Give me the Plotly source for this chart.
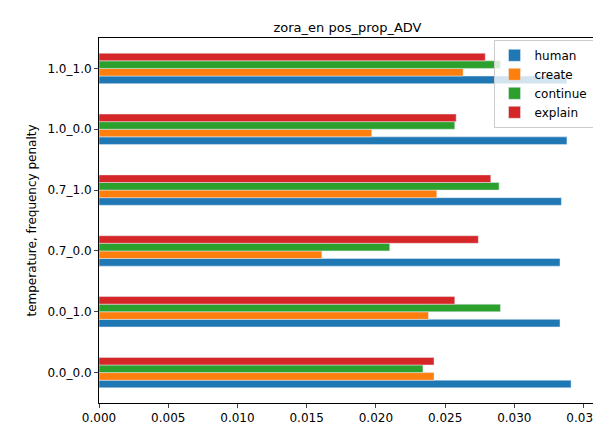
import plotly.graph_objects as go

categories = ["0.0_0.0", "0.0_1.0", "0.7_0.0", "0.7_1.0", "1.0_0.0", "1.0_1.0"]
human = [0.0341, 0.0333, 0.0333, 0.0334, 0.0338, 0.0338]
create = [0.0242, 0.0238, 0.0161, 0.0244, 0.0197, 0.0263]
cont = [0.0234, 0.0290, 0.0210, 0.0289, 0.0257, 0.0290]
explain = [0.0242, 0.0257, 0.0274, 0.0283, 0.0258, 0.0279]

series = [("human", human, "#1f77b4"), ("create", create, "#ff7f0e"),
          ("continue", cont, "#2ca02c"), ("explain", explain, "#d62728")]

fig = go.Figure()
for name, vals, col in series:
    fig.add_trace(go.Bar(y=categories, x=vals, name=name, orientation="h", marker_color=col))

fig.update_layout(
    width=601, height=433, barmode="group", bargap=0.5, bargroupgap=0,
    plot_bgcolor="white", paper_bgcolor="white",
    font=dict(family="DejaVu Sans", size=12, color="black"),
    title=dict(text="zora_en pos_prop_ADV", x=0.5, xref="paper", y=0.955, yanchor="middle", font=dict(size=13)),
    margin=dict(l=91, r=13, t=30, b=38, autoexpand=False),
    legend=dict(x=0.995, y=0.995, xanchor="right", yanchor="top", bgcolor="rgba(255,255,255,0.8)",
                bordercolor="#cccccc", borderwidth=1, font=dict(size=12)),
    xaxis=dict(range=[0, 0.0359], dtick=0.005, tickformat=".3f", showgrid=False, zeroline=False,
               showline=True, linecolor="black", mirror=True, ticks="outside", ticklen=4, automargin=False),
    yaxis=dict(title=dict(text="temperature, frequency penalty", font=dict(size=12), standoff=8),
               showgrid=False, showline=True, automargin=False,
               linecolor="black", mirror=True, ticks="outside", ticklen=4),
)
fig.write_html("out.html")
